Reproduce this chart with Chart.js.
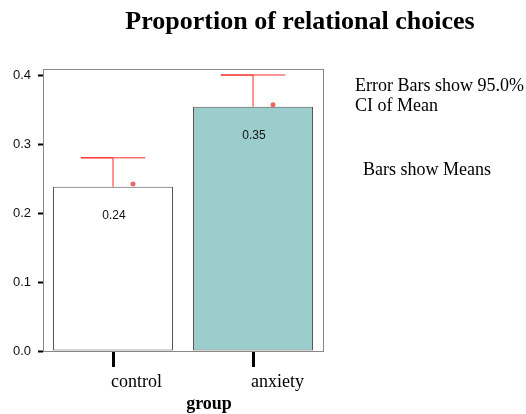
<!DOCTYPE html>
<html>
<head>
<meta charset="utf-8">
<script src="https://cdn.jsdelivr.net/npm/chart.js@4"></script>
<style>
  body { margin: 0; background: #fff; }
  canvas { display: block; }
</style>
</head>
<body>
<canvas id="grafico" width="526" height="414"></canvas>
<script>
// Dados do gráfico
const groups = ['control', 'anxiety'];
const means = [0.238, 0.354];
const upperCI = [0.280, 0.400];
const dotValues = [0.242, 0.357];
const yTicks = [0.0, 0.1, 0.2, 0.3, 0.4];

const chartTitle = 'Proportion of relational choices';
const xTitle = 'group';
const notes = ['Error Bars show 95.0%', 'CI of Mean', 'Bars show Means'];

const capHalf = 0.23;   // meia largura do "cap" em unidades de categoria
const dotShift = 0.143; // deslocamento do ponto vermelho

// Plugin para moldura, títulos e rótulos de valor
const extras = {
    id: 'extras',
    beforeDatasetsDraw(chart) {
        const { ctx, chartArea: a } = chart;
        ctx.save();
        ctx.strokeStyle = '#888';
        ctx.lineWidth = 1;
        ctx.strokeRect(a.left + 0.5, a.top + 0.5, a.right - a.left, a.bottom - a.top);
        ctx.restore();
    },
    afterDatasetsDraw(chart) {
        const { ctx } = chart;
        const y = chart.scales.y;
        const meta = chart.getDatasetMeta(0);
        ctx.save();
        ctx.fillStyle = '#111';
        ctx.font = '12px "Liberation Sans", Arial, sans-serif';
        ctx.textAlign = 'center';
        ctx.textBaseline = 'middle';
        meta.data.forEach((bar, i) => {
            ctx.fillText(means[i].toFixed(2), bar.x + 1, y.getPixelForValue(means[i]) + 29);
        });
        ctx.restore();
    },
    afterDraw(chart) {
        const { ctx } = chart;
        ctx.save();
        ctx.fillStyle = '#000';
        ctx.textBaseline = 'alphabetic';
        ctx.textAlign = 'center';
        ctx.font = 'bold 26px "Liberation Serif", "Times New Roman", serif';
        ctx.fillText(chartTitle, 300, 29);
        ctx.font = 'bold 18px "Liberation Serif", "Times New Roman", serif';
        ctx.fillText(xTitle, 209, 409);
        ctx.textAlign = 'left';
        ctx.font = '18px "Liberation Serif", "Times New Roman", serif';
        ctx.fillText(notes[0], 355, 91);
        ctx.fillText(notes[1], 355, 111);
        ctx.fillText(notes[2], 363, 175);
        ctx.restore();
    }
};

const datasets = [{
    type: 'bar',
    data: groups.map((g, i) => ({ x: i, y: means[i] })),
    backgroundColor: ['#ffffff', '#9bcdcd'],
    borderColor: '#555',
    borderWidth: 1,
    borderSkipped: false,
    barPercentage: 0.857,
    categoryPercentage: 1,
    order: 2
}];

groups.forEach((g, i) => {
    datasets.push({
        type: 'line',
        data: [
            { x: i, y: means[i] },
            { x: i, y: upperCI[i] },
            { x: i - capHalf, y: upperCI[i] },
            { x: i + capHalf, y: upperCI[i] }
        ],
        borderColor: '#ff2a2a',
        borderWidth: 1,
        pointRadius: 0,
        fill: false,
        tension: 0,
        order: 1
    });
});

datasets.push({
    type: 'scatter',
    data: groups.map((g, i) => ({ x: i + dotShift, y: dotValues[i] })),
    backgroundColor: '#f06464',
    borderWidth: 0,
    pointRadius: 2.5,
    order: 0
});

new Chart(document.getElementById('grafico'), {
    data: { datasets },
    plugins: [extras],
    options: {
        responsive: false,
        animation: false,
        layout: { padding: { top: 69, right: 203, left: 0, bottom: 0 } },
        plugins: {
            legend: { display: false },
            tooltip: { enabled: false },
            title: { display: false }
        },
        scales: {
            x: {
                type: 'linear',
                min: -0.5,
                max: 1.5,
                offset: false,
                afterBuildTicks: (s) => { s.ticks = groups.map((g, i) => ({ value: i })); },
                afterFit: (s) => { s.height = 63; },
                grid: {
                    offset: false,
                    drawOnChartArea: false,
                    tickLength: 16,
                    tickColor: '#000',
                    tickWidth: 3
                },
                border: { color: '#999', width: 1 },
                ticks: {
                    align: 'start',
                    labelOffset: -2,
                    padding: 4,
                    color: '#000',
                    font: { family: '"Liberation Serif", "Times New Roman", serif', size: 18 },
                    callback: (v) => groups[v]
                }
            },
            y: {
                min: 0,
                max: 0.4087,
                afterBuildTicks: (s) => { s.ticks = yTicks.map(v => ({ value: v })); },
                afterFit: (s) => { s.width = 43; },
                grid: {
                    drawOnChartArea: false,
                    tickLength: 5,
                    tickColor: '#000',
                    tickWidth: 2
                },
                border: { color: '#888', width: 1 },
                ticks: {
                    padding: 7,
                    color: '#111',
                    font: { family: '"Liberation Sans", Arial, sans-serif', size: 13 },
                    callback: (v) => v.toFixed(1)
                }
            }
        }
    }
});
</script>
</body>
</html>
